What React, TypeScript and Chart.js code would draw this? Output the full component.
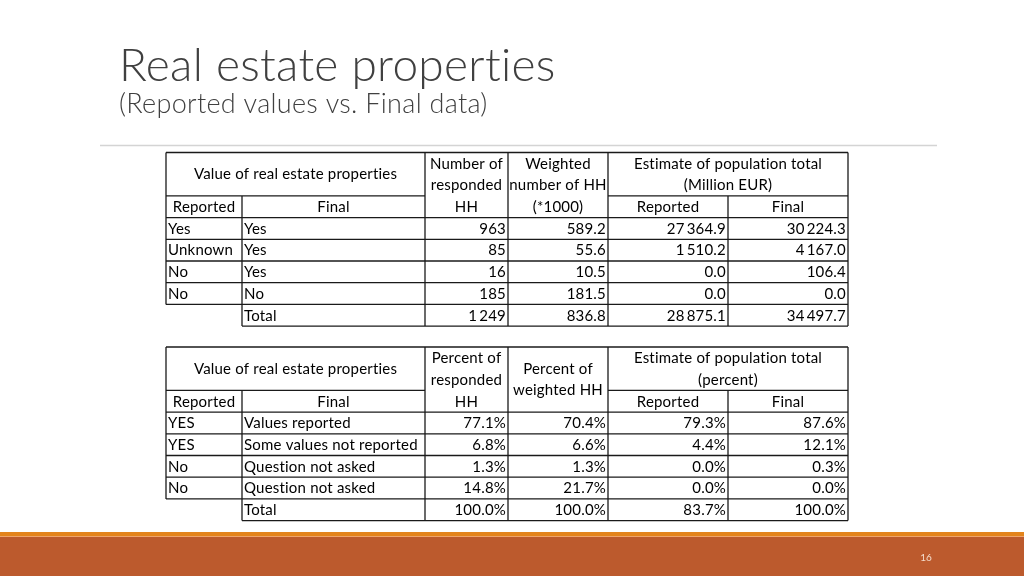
import React, { useEffect, useRef } from "react";
import { Chart, registerables } from "chart.js";

Chart.register(...registerables);

// ---------- Data ----------
const titleText = "Real estate properties";
const subtitleText = "(Reported values vs. Final data)";
const pageNumber = "16";

// Table 1: counts and totals
const t1Reported = ["Yes", "Unknown", "No", "No", ""];
const t1Final = ["Yes", "Yes", "Yes", "No", "Total"];
const t1RespondedHH = [963, 85, 16, 185, 1249];
const t1WeightedHH = [589.2, 55.6, 10.5, 181.5, 836.8];
const t1EstReported = [27364.9, 1510.2, 0.0, 0.0, 28875.1];
const t1EstFinal = [30224.3, 4167.0, 106.4, 0.0, 34497.7];

// Table 2: percentages
const t2Reported = ["YES", "YES", "No", "No", ""];
const t2Final = ["Values reported", "Some values not reported", "Question not asked", "Question not asked", "Total"];
const t2PctResponded = [77.1, 6.8, 1.3, 14.8, 100.0];
const t2PctWeighted = [70.4, 6.6, 1.3, 21.7, 100.0];
const t2PctEstReported = [79.3, 4.4, 0.0, 0.0, 83.7];
const t2PctEstFinal = [87.6, 12.1, 0.3, 0.0, 100.0];

const t1Headers = {
  group: "Value of real estate properties",
  reported: "Reported",
  final: "Final",
  col3: ["Number of", "responded", "HH"],
  col4: ["Weighted", "number of HH", "(*1000)"],
  est: ["Estimate of population total", "(Million EUR)"],
};
const t2Headers = {
  group: "Value of real estate properties",
  reported: "Reported",
  final: "Final",
  col3: ["Percent of", "responded", "HH"],
  col4: ["Percent of", "weighted HH"],
  est: ["Estimate of population total", "(percent)"],
};

// ---------- Formatting ----------
function fmtThousands(v: number, decimals: number): string {
  const s = v.toFixed(decimals);
  const [intPart, dec] = s.split(".");
  const grouped = intPart.replace(/\B(?=(\d{3})+(?!\d))/g, "\u2009");
  return dec !== undefined ? grouped + "." + dec : grouped;
}
const fmtInt = (v: number) => fmtThousands(v, 0);
const fmt1 = (v: number) => fmtThousands(v, 1);
const fmtPct = (v: number) => v.toFixed(1) + "%";

// ---------- Layout ----------
const COLS = [166, 242, 425, 508, 608, 728, 848];
const ROW_H = 21.7;
const FONT = "Lato, 'Open Sans', sans-serif";

function drawTable(
  ctx: CanvasRenderingContext2D,
  top: number,
  headers: any,
  reported: string[],
  finals: string[],
  cols: string[][],
  threeLineCol4: boolean
) {
  const r = (i: number) => top + i * ROW_H;
  const [c0, c1, c2, c3, c4, c5, c6] = COLS;
  ctx.save();
  ctx.strokeStyle = "#1a1a1a";
  ctx.lineWidth = 1.3;
  const line = (x1: number, y1: number, x2: number, y2: number) => {
    ctx.beginPath();
    ctx.moveTo(x1, y1);
    ctx.lineTo(x2, y2);
    ctx.stroke();
  };
  // horizontal lines
  line(c0, r(0), c6, r(0));
  line(c0, r(2), c2, r(2));
  line(c4, r(2), c6, r(2));
  for (let i = 3; i <= 7; i++) line(c0, r(i), c6, r(i));
  line(c1, r(8), c6, r(8));
  // vertical lines
  line(c0, r(0), c0, r(7));
  line(c1, r(2), c1, r(8));
  line(c2, r(0), c2, r(8));
  line(c3, r(0), c3, r(8));
  line(c4, r(0), c4, r(8));
  line(c5, r(2), c5, r(8));
  line(c6, r(0), c6, r(8));

  ctx.fillStyle = "#000";
  ctx.font = `15px ${FONT}`;
  (ctx as any).letterSpacing = "0.2px";
  ctx.textBaseline = "middle";
  const mid = (i: number) => (r(i) + r(i + 1)) / 2 + 0.5;

  // headers
  ctx.textAlign = "center";
  ctx.fillText(headers.group, (c0 + c2) / 2, r(1));
  ctx.fillText(headers.reported, (c0 + c1) / 2, mid(2));
  ctx.fillText(headers.final, (c1 + c2) / 2, mid(2));
  headers.col3.forEach((t: string, i: number) => ctx.fillText(t, (c2 + c3) / 2, mid(i)));
  if (threeLineCol4) {
    headers.col4.forEach((t: string, i: number) => ctx.fillText(t, (c3 + c4) / 2, mid(i)));
  } else {
    headers.col4.forEach((t: string, i: number) => ctx.fillText(t, (c3 + c4) / 2, r(i + 1)));
  }
  headers.est.forEach((t: string, i: number) => ctx.fillText(t, (c4 + c6) / 2, mid(i)));
  ctx.fillText(headers.reported, (c4 + c5) / 2, mid(2));
  ctx.fillText(headers.final, (c5 + c6) / 2, mid(2));

  // body
  const edges = [c2, c3, c4, c5, c6];
  for (let i = 0; i < reported.length; i++) {
    const y = mid(3 + i);
    ctx.textAlign = "left";
    ctx.fillText(reported[i], c0 + 2, y);
    ctx.fillText(finals[i], c1 + 2, y);
    ctx.textAlign = "right";
    cols.forEach((col, j) => ctx.fillText(col[i], edges[j + 1] - 2, y));
  }
  ctx.restore();
}

const slidePlugin = {
  id: "slideTables",
  afterDraw(chart: any) {
    const ctx: CanvasRenderingContext2D = chart.ctx;
    ctx.save();
    // title
    ctx.fillStyle = "#404040";
    ctx.textAlign = "left";
    ctx.textBaseline = "alphabetic";
    (ctx as any).letterSpacing = "0.3px";
    ctx.font = `300 46px ${FONT}`;
    ctx.fillText(titleText, 119, 81);
    ctx.font = `300 27px ${FONT}`;
    ctx.fillText(subtitleText, 119, 113);
    (ctx as any).letterSpacing = "0px";
    // separator
    ctx.strokeStyle = "#d4d4d4";
    ctx.lineWidth = 1.5;
    ctx.beginPath();
    ctx.moveTo(100, 145.5);
    ctx.lineTo(937, 145.5);
    ctx.stroke();

    drawTable(
      ctx,
      152.5,
      t1Headers,
      t1Reported,
      t1Final,
      [t1RespondedHH.map(fmtInt), t1WeightedHH.map(fmt1), t1EstReported.map(fmt1), t1EstFinal.map(fmt1)],
      true
    );
    drawTable(
      ctx,
      347,
      t2Headers,
      t2Reported,
      t2Final,
      [t2PctResponded.map(fmtPct), t2PctWeighted.map(fmtPct), t2PctEstReported.map(fmtPct), t2PctEstFinal.map(fmtPct)],
      false
    );

    // footer
    ctx.fillStyle = "#E3841C";
    ctx.fillRect(0, 532, 1024, 4);
    ctx.fillStyle = "#EFA56A";
    ctx.fillRect(0, 536, 1024, 1);
    ctx.fillStyle = "#BC5A2D";
    ctx.fillRect(0, 537, 1024, 39);
    ctx.fillStyle = "#F4DCCB";
    ctx.font = `10px ${FONT}`;
    ctx.textAlign = "center";
    ctx.textBaseline = "middle";
    ctx.fillText(pageNumber, 926, 558);
    ctx.restore();
  },
};

export default function App() {
  const ref = useRef<HTMLCanvasElement | null>(null);
  useEffect(() => {
    document.body.style.margin = "0";
    document.body.style.background = "#fff";
    if (!ref.current) return;
    const chart = new Chart(ref.current, {
      type: "scatter",
      data: { datasets: [] },
      options: {
        animation: false,
        responsive: false,
        events: [],
        layout: { padding: 0 },
        plugins: { legend: { display: false }, tooltip: { enabled: false }, title: { display: false } },
        scales: {
          x: { display: false, min: 0, max: 1024 },
          y: { display: false, min: 0, max: 576, reverse: true },
        },
      },
      plugins: [slidePlugin],
    });
    return () => chart.destroy();
  }, []);
  return (
    <div style={{ width: 1024, height: 576, background: "#fff" }}>
      <canvas ref={ref} width={1024} height={576} style={{ display: "block" }} />
    </div>
  );
}
